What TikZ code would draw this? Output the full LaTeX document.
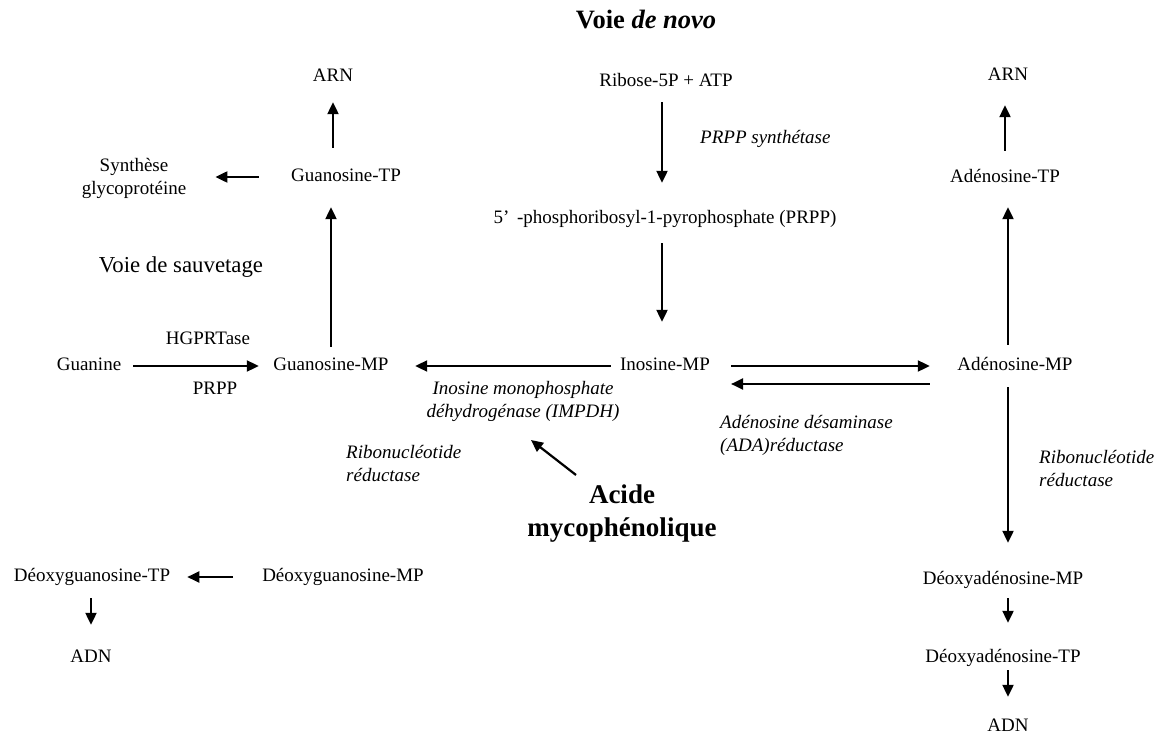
\documentclass[tikz,border=0pt]{standalone}
\usepackage{fontspec}
\setmainfont{Liberation Serif}
\usetikzlibrary{arrows.meta}
\tikzset{
  lbl/.style={inner sep=0pt, text height=13pt, text depth=4pt, font=\fontsize{19}{23}\selectfont},
  mlbl/.style={inner sep=0pt, font=\fontsize{19}{23}\selectfont},
  enz/.style={inner sep=0pt, font=\fontsize{19}{23}\selectfont\itshape},
  arr/.style={line width=2.2pt, -{Triangle[length=12pt,width=11pt]}}
}
\begin{document}
\begin{tikzpicture}[x=1pt,y=-1pt]
\useasboundingbox[fill=white] (0,0) rectangle (1159,735);
% titles
\node[inner sep=0pt, font=\fontsize{26.5}{30}\selectfont\bfseries] (title) at (646,20) {Voie \textit{de novo}};
\node[inner sep=0pt, font=\fontsize{22.8}{26}\selectfont] (sauv) at (181,267) {Voie de sauvetage};
% metabolites
\node[lbl] (arnL) at (333,77) {ARN};
\node[lbl] (ribose) at (666,82) {Ribose-5P + ATP};
\node[lbl] (arnR) at (1008,76) {ARN};
\node[mlbl, align=center] (synth) at (134,178.5) {Synthèse\\glycoprotéine};
\node[lbl] (gtp) at (346,177) {Guanosine-TP};
\node[lbl] (atp) at (1005,178) {Adénosine-TP};
\node[lbl] (prpp) at (665,219) {5’\kern3pt\ -phosphoribosyl-1-pyrophosphate (PRPP)};
\node[lbl] (hgprt) at (208,340) {HGPRTase};
\node[lbl] (guanine) at (89,366) {Guanine};
\node[lbl] (gmp) at (331,366) {Guanosine-MP};
\node[lbl] (imp) at (665,366) {Inosine-MP};
\node[lbl] (amp) at (1015,366) {Adénosine-MP};
\node[lbl] (prppS) at (215,390) {PRPP};
\node[lbl] (dgtp) at (92,577) {Déoxyguanosine-TP};
\node[lbl] (dgmp) at (343,577) {Déoxyguanosine-MP};
\node[lbl] (damp) at (1003,580) {Déoxyadénosine-MP};
\node[lbl] (adnL) at (91,658) {ADN};
\node[lbl] (datp) at (1003,658) {Déoxyadénosine-TP};
\node[lbl] (adnR) at (1008,727) {ADN};
% enzymes
\node[enz, anchor=west] (prppsyn) at (700,139) {PRPP synthétase};
\node[enz, align=center] (impdh) at (523,401.5) {Inosine monophosphate\\déhydrogénase (IMPDH)};
\node[enz, align=left, anchor=west] (ada) at (720,435) {Adénosine désaminase\\(ADA)réductase};
\node[enz, align=left, anchor=west] (rnrL) at (346,463.5) {Ribonucléotide\\réductase};
\node[enz, align=left, anchor=west] (rnrR) at (1039,468.5) {Ribonucléotide\\réductase};
\node[inner sep=0pt, align=center, font=\fontsize{27}{33}\selectfont\bfseries] (mpa) at (622,513.5) {Acide\\mycophénolique};
\coordinate (mpaTail) at (576,475);
\coordinate (mpaTip) at (531,440);
% arrows
\draw[arr, shorten <=20.5pt, shorten >=16.5pt] (gtp.north -| arnL.south) -- (arnL.south);
\draw[arr, shorten <=32pt, shorten >=29pt] (gtp.west) -- (gtp.west -| synth.east);
\draw[arr, shorten <=10.5pt, shorten >=21.5pt] (gmp.north) -- (gmp.north |- gtp.south);
\draw[arr, shorten <=12pt, shorten >=14.5pt] (guanine.east) -- (gmp.west);
\draw[arr, shorten <=11.5pt, shorten >=27.5pt] (ribose.south -| 662,0) -- (prpp.north -| 662,0);
\draw[arr, shorten <=15.5pt, shorten >=35.5pt] (prpp.south -| 662,0) -- (imp.north -| 662,0);
\draw[arr, shorten <=9pt, shorten >=26.5pt] (imp.west) -- (gmp.east);
\draw[arr, shorten <=21pt, shorten >=27.5pt] (imp.east) -- (amp.west);
\draw[arr, shorten <=27.5pt, shorten >=21pt] ([yshift=-18pt]amp.west) -- ([yshift=-18pt]imp.east);
\draw[arr, shorten <=12.5pt, shorten >=20.5pt] (amp.north -| arnR.south) -- (arnR.south |- atp.south);
\draw[arr, shorten <=18.5pt, shorten >=20.5pt] (atp.north) -- (atp.north |- arnR.south);
\draw[arr, shorten <=12.5pt, shorten >=28.5pt] (amp.south -| arnR.south) -- (arnR.south |- damp.north);
\draw[arr, shorten <=9.5pt, shorten >=26.5pt] (damp.south -| adnR.north) -- (datp.north -| adnR.north);
\draw[arr, shorten <=3.5pt, shorten >=21.5pt] (datp.south -| adnR.north) -- (adnR.north);
\draw[arr, shorten <=29pt, shorten >=17pt] (dgmp.west) -- (dgmp.west -| dgtp.east);
\draw[arr, shorten <=12.5pt, shorten >=24.5pt] (dgtp.south -| adnL.north) -- (adnL.north);
\draw[arr] (mpaTail) -- (mpaTip);
\end{tikzpicture}
\end{document}
